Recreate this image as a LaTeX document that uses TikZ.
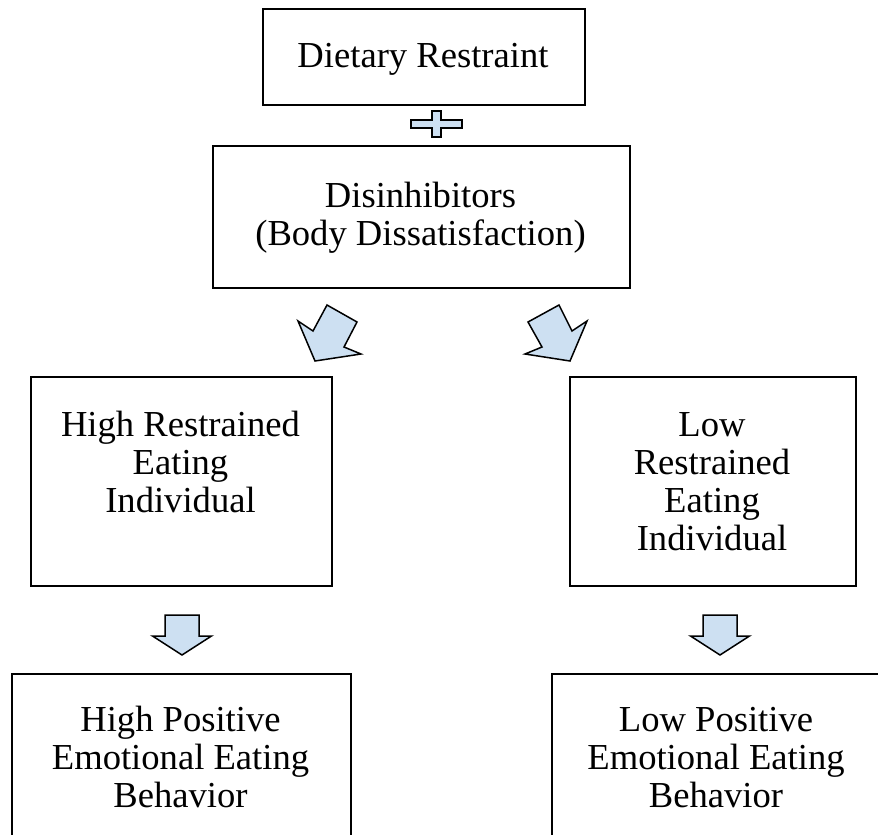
\documentclass[tikz,border=0pt]{standalone}
\usepackage{fontspec}
\setmainfont{Liberation Serif}
\definecolor{arrowfill}{RGB}{205,224,242}
\begin{document}
\begin{tikzpicture}[x=1pt,y=-1pt,
  boxline/.style={draw=black,line width=2pt,inner sep=0pt,anchor=north west},
  blockarrow/.style={draw=black,fill=arrowfill,line width=1.5pt,line join=miter},
  lbl/.style={anchor=base,inner sep=0pt,font=\fontsize{36.6}{38}\selectfont}]
\useasboundingbox (0,0) rectangle (878,835);
\clip (0,0) rectangle (878,835);
% boxes
\node[boxline,minimum width=322pt,minimum height=96pt] (b1) at (262,8) {};
\node[boxline,minimum width=417pt,minimum height=142pt] (b2) at (212,145) {};
\node[boxline,minimum width=301pt,minimum height=209pt] (b3) at (30,376) {};
\node[boxline,minimum width=286pt,minimum height=209pt] (b4) at (569,376) {};
\node[boxline,minimum width=339pt,minimum height=220pt] (b5) at (11,673) {};
\node[boxline,minimum width=334pt,minimum height=220pt] (b6) at (551,673) {};
% texts
\node[lbl] (t1) at (423,67) {\begin{tabular}[t]{@{}c@{}}Dietary Restraint\end{tabular}};
\node[lbl] (t2) at (420.5,207) {\begin{tabular}[t]{@{}c@{}}Disinhibitors\\(Body Dissatisfaction)\end{tabular}};
\node[lbl] (t3) at (180.5,436) {\begin{tabular}[t]{@{}c@{}}High Restrained\\Eating\\Individual\end{tabular}};
\node[lbl] (t4) at (712,436) {\begin{tabular}[t]{@{}c@{}}Low\\Restrained\\Eating\\Individual\end{tabular}};
\node[lbl] (t5) at (180.5,731) {\begin{tabular}[t]{@{}c@{}}High Positive\\Emotional Eating\\Behavior\end{tabular}};
\node[lbl] (t6) at (716,731) {\begin{tabular}[t]{@{}c@{}}Low Positive\\Emotional Eating\\Behavior\end{tabular}};
% plus sign
\draw[blockarrow] (432,111) -- (441,111) -- (441,120) -- (462,120) -- (462,128) -- (441,128)
  -- (441,137) -- (432,137) -- (432,128) -- (411,128) -- (411,120) -- (432,120) -- cycle;
% diagonal arrows
\draw[blockarrow] (327,305) -- (357,322) -- (344,347) -- (361,354) -- (315,361) -- (298,321) -- (313,331) -- cycle;
\draw[blockarrow] (559,305) -- (528,322) -- (542,347) -- (525,354) -- (570,361) -- (587,321) -- (572,331) -- cycle;
% down arrows
\draw[blockarrow] (165,615) -- (199,615) -- (199,636) -- (211.5,636) -- (182,655) -- (152.5,636) -- (165,636) -- cycle;
\draw[blockarrow] (703,615) -- (737,615) -- (737,636) -- (749.5,636) -- (720,655) -- (690.5,636) -- (703,636) -- cycle;
\end{tikzpicture}
\end{document}
